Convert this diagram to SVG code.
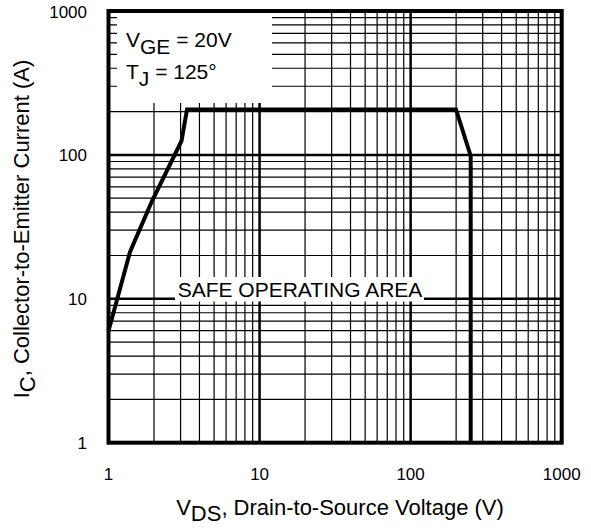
<svg xmlns="http://www.w3.org/2000/svg" width="591" height="531" viewBox="0 0 591 531">
<style>
.grid{stroke:#000;stroke-width:1.2;fill:none}
.dec{stroke:#000;stroke-width:2.5;fill:none}
.frame{stroke:#000;stroke-width:4;fill:none}
.curve{stroke:#000;stroke-width:4;fill:none;stroke-linejoin:miter}
.mask{fill:#fff;stroke:none}
text{font-family:"Liberation Sans",Arial,sans-serif;fill:#000}
.tick{font-size:17px}
.lbl{font-size:21px}
.title{font-size:22px}
</style>
<rect width="591" height="531" fill="#fff"/>
<g id="grid">
<path class="grid" d="M153.98 11V442.7M180.58 11V442.7M199.45 11V442.7M214.09 11V442.7M226.06 11V442.7M236.17 11V442.7M244.93 11V442.7M252.66 11V442.7
M305.05 11V442.7M331.65 11V442.7M350.52 11V442.7M365.16 11V442.7M377.13 11V442.7M387.24 11V442.7M396 11V442.7M403.73 11V442.7
M456.12 11V442.7M482.72 11V442.7M501.59 11V442.7M516.23 11V442.7M528.2 11V442.7M538.31 11V442.7M547.07 11V442.7M554.8 11V442.7
M108.5 399.38H561.7M108.5 374.04H561.7M108.5 356.06H561.7M108.5 342.12H561.7M108.5 330.72H561.7M108.5 321.09H561.7M108.5 312.75H561.7M108.5 305.39H561.7
M108.5 255.48H561.7M108.5 230.14H561.7M108.5 212.16H561.7M108.5 198.22H561.7M108.5 186.82H561.7M108.5 177.19H561.7M108.5 168.85H561.7M108.5 161.49H561.7
M108.5 111.58H561.7M108.5 86.24H561.7M108.5 68.26H561.7M108.5 54.32H561.7M108.5 42.92H561.7M108.5 33.29H561.7M108.5 24.95H561.7M108.5 17.59H561.7"/>
<path class="dec" d="M259.57 11V442.7M410.64 11V442.7M108.5 298.8H561.7M108.5 154.9H561.7"/>
</g>
<g id="legend-box">
<rect class="mask" x="117" y="13" width="155" height="90"/>
<text class="lbl" x="126" y="47">V<tspan dy="6.5">GE</tspan><tspan dy="-6.5"> = 20V</tspan></text>
<text class="lbl" x="126" y="79">T<tspan dy="6.5">J</tspan><tspan dy="-6.5"> = 125°</tspan></text>
</g>
<g id="soa-label">
<rect class="mask" x="175" y="277" width="249" height="24.5"/>
<text class="lbl" x="300" y="296.5" text-anchor="middle">SAFE OPERATING AREA</text>
</g>
<g id="frame">
<rect class="frame" x="108.5" y="11" width="453.2" height="431.7"/>
</g>
<g id="connectors">
<polyline class="curve" points="108.5,331 130,252 152,201 181.5,141 187,109.5 456,109.5 470.7,156 470.7,442.7"/>
</g>
<g id="y-ticks">
<text class="tick" x="87" y="18" text-anchor="end">1000</text>
<text class="tick" x="87" y="161" text-anchor="end">100</text>
<text class="tick" x="87" y="305" text-anchor="end">10</text>
<text class="tick" x="87" y="449" text-anchor="end">1</text>
</g>
<g id="x-ticks">
<text class="tick" x="108.5" y="480" text-anchor="middle">1</text>
<text class="tick" x="259.6" y="480" text-anchor="middle">10</text>
<text class="tick" x="410.6" y="480" text-anchor="middle">100</text>
<text class="tick" x="561.7" y="480" text-anchor="middle">1000</text>
</g>
<g id="x-title">
<text class="title" x="340" y="515" text-anchor="middle">V<tspan dy="6">DS</tspan><tspan dy="-6">, Drain-to-Source Voltage (V)</tspan></text>
</g>
<g id="y-title">
<text class="title" transform="translate(29,229) rotate(-90)" text-anchor="middle">I<tspan dy="6">C</tspan><tspan dy="-6">,  Collector-to-Emitter Current (A)</tspan></text>
</g>
</svg>
